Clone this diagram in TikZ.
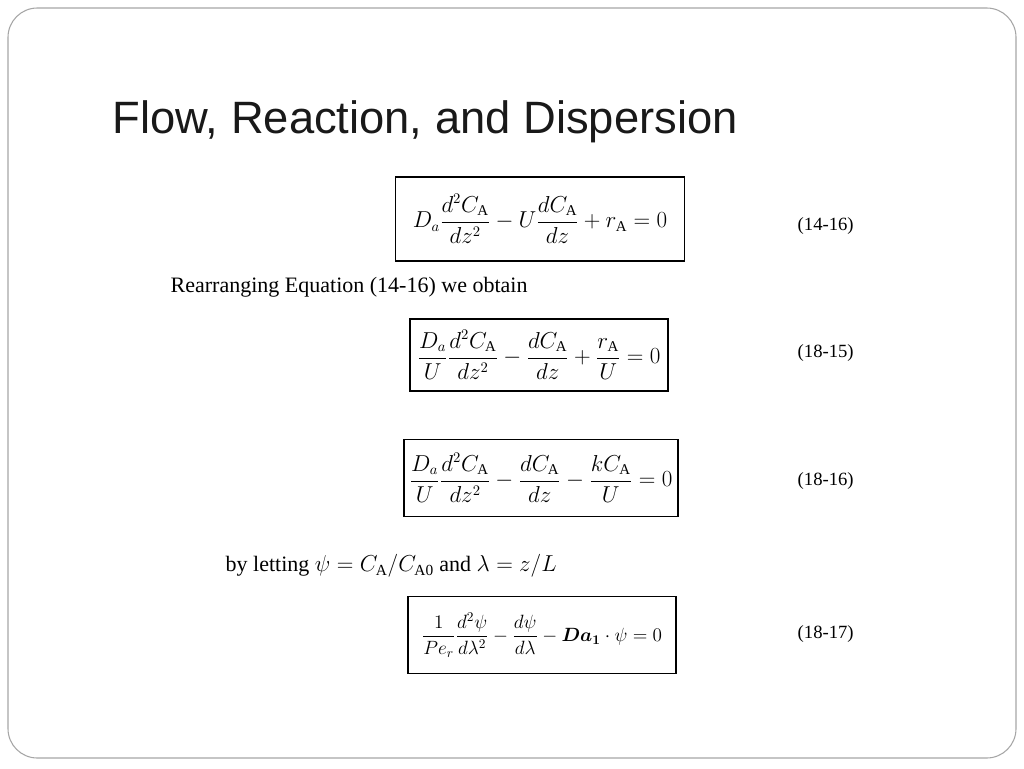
\documentclass[tikz,border=0pt]{standalone}
\usepackage{amsmath, amssymb}
\usepackage{fontspec}
\setmainfont{Liberation Serif}
\newfontfamily\titlefont{Liberation Sans}
\usetikzlibrary{positioning}
\begin{document}
\begin{tikzpicture}[x=0.75pt,y=-0.75pt]

\tikzset{eqbox/.style={draw=black, line width=1.2, inner sep=4, font=\fontsize{16}{19}\selectfont}}
\tikzset{eqnum/.style={anchor=west, font=\fontsize{14}{16}\selectfont}}
\tikzset{prose/.style={anchor=west, font=\fontsize{16.5}{19}\selectfont}}

\useasboundingbox (0,0) rectangle (1024,768);
\draw[gray!70, rounded corners=22, line width=0.8] (8,8) rectangle (1016,758);

\node[anchor=west, font=\titlefont\fontsize{34}{40}\selectfont, text=black!90] (title) at (108,122) {Flow, Reaction, and Dispersion};

\node[eqbox, minimum width=289*0.75pt, minimum height=84*0.75pt] (eqa) at (540,219)
  {$D_a\dfrac{d^2C_{\mathrm{A}}}{dz^2}-U\dfrac{dC_{\mathrm{A}}}{dz}+r_{\mathrm{A}}=0$};
\node[eqnum] (numa) at (793,226) {(14-16)};

\node[prose] (rearr) at (166,287) {Rearranging Equation (14-16) we obtain};

\node[eqbox, minimum width=258*0.75pt, minimum height=72*0.75pt] (eqb) at (539,355)
  {$\dfrac{D_a}{U}\dfrac{d^2C_{\mathrm{A}}}{dz^2}-\dfrac{dC_{\mathrm{A}}}{dz}+\dfrac{r_{\mathrm{A}}}{U}=0$};
\node[eqnum] (numb) at (793,353) {(18-15)};

\node[eqbox, minimum width=274*0.75pt, minimum height=77*0.75pt] (eqc) at (541,478)
  {$\dfrac{D_a}{U}\dfrac{d^2C_{\mathrm{A}}}{dz^2}-\dfrac{dC_{\mathrm{A}}}{dz}-\dfrac{kC_{\mathrm{A}}}{U}=0$};
\node[eqnum] (numc) at (793,481) {(18-16)};

\node[prose] (letting) at (221,566) {by letting $\psi=C_{\mathrm{A}}/C_{\mathrm{A0}}$ and $\lambda=z/L$};

\node[eqbox, font=\fontsize{14.5}{17}\selectfont, minimum width=268*0.75pt, minimum height=77*0.75pt] (eqd) at (542,635)
  {$\dfrac{1}{Pe_r}\dfrac{d^2\psi}{d\lambda^2}-\dfrac{d\psi}{d\lambda}-\boldsymbol{Da_1}\cdot\psi=0$};
\node[eqnum] (numd) at (793,634) {(18-17)};

\end{tikzpicture}
\end{document}
